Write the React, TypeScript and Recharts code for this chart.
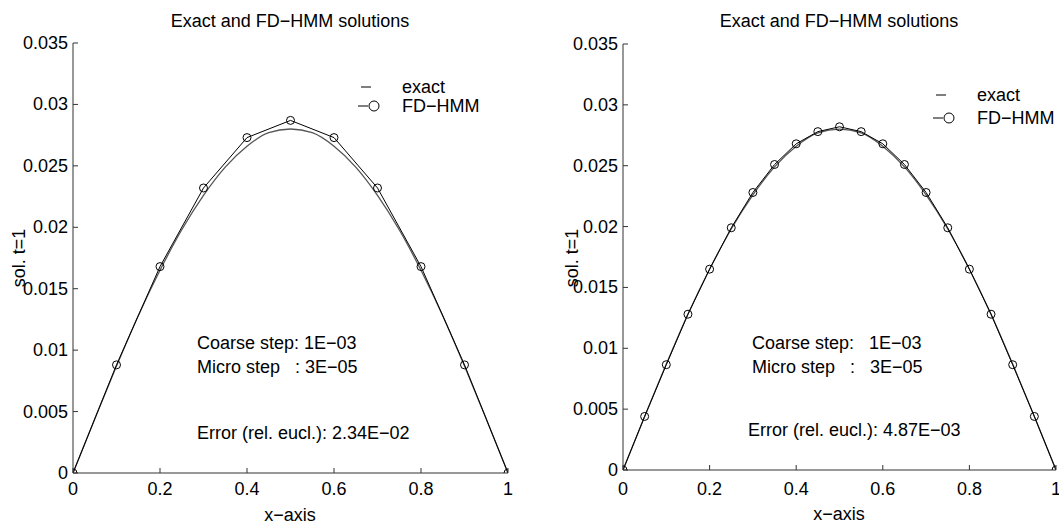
import React from "react";
import { LineChart, Line, XAxis, YAxis, Legend } from "recharts";

const xTicks = [0, 0.2, 0.4, 0.6, 0.8, 1];
const yTicks = [0, 0.005, 0.01, 0.015, 0.02, 0.025, 0.03, 0.035];

// exact solution, read every 0.05
const exactX = [0, 0.05, 0.1, 0.15, 0.2, 0.25, 0.3, 0.35, 0.4, 0.45, 0.5, 0.55, 0.6, 0.65, 0.7, 0.75, 0.8, 0.85, 0.9, 0.95, 1];
const exactY = [0, 0.0044, 0.0087, 0.0128, 0.0165, 0.0198, 0.0226, 0.0249, 0.0266, 0.0277, 0.028, 0.0277, 0.0266, 0.0249, 0.0226, 0.0198, 0.0165, 0.0128, 0.0087, 0.0044, 0];

// FD-HMM, coarse grid (left panel)
const coarseX = [0, 0.1, 0.2, 0.3, 0.4, 0.5, 0.6, 0.7, 0.8, 0.9, 1];
const coarseFd = [0, 0.0088, 0.0168, 0.0232, 0.0273, 0.0287, 0.0273, 0.0232, 0.0168, 0.0088, 0];

// FD-HMM, finer grid (right panel)
const fineX = exactX;
const fineFd = [0, 0.0044, 0.00865, 0.0128, 0.0165, 0.0199, 0.0228, 0.0251, 0.0268, 0.0278, 0.0282, 0.0278, 0.0268, 0.0251, 0.0228, 0.0199, 0.0165, 0.0128, 0.00865, 0.0044, 0];

const FONT = "'Liberation Sans', Arial, Helvetica, sans-serif";
const FS = 18;
const AXIS = "#333";

const fmt = (v: number) => parseFloat(v.toFixed(3)).toString();

const BottomTick = (props: any) => {
  const { x, y, payload, dy } = props;
  return (
    <g>
      <line x1={x} y1={y} x2={x} y2={y - 5} stroke={AXIS} />
      <text x={x} y={y + dy} textAnchor="middle" dominantBaseline="central" fontSize={FS} fontFamily={FONT} fill="#000">
        {fmt(payload.value)}
      </text>
    </g>
  );
};

const LeftTick = (props: any) => {
  const { x, y, payload } = props;
  return (
    <g>
      <line x1={x} y1={y} x2={x + 5} y2={y} stroke={AXIS} />
      <text x={x - 5} y={y} textAnchor="end" dominantBaseline="central" fontSize={FS} fontFamily={FONT} fill="#000">
        {fmt(payload.value)}
      </text>
    </g>
  );
};

const TopTick = (props: any) => {
  const { x, y } = props;
  return <line x1={x} y1={y} x2={x} y2={y + 5} stroke={AXIS} />;
};

const RightTick = (props: any) => {
  const { x, y } = props;
  return <line x1={x} y1={y} x2={x - 5} y2={y} stroke={AXIS} />;
};

function Txt({ x, y, children, anchor = "left", rotate = false }: any) {
  const tx = anchor === "center" ? "-50%" : "0";
  return (
    <div
      style={{
        position: "absolute",
        left: x,
        top: y,
        transform: `translate(${tx}, -50%)${rotate ? " rotate(-90deg)" : ""}`,
        fontFamily: FONT,
        fontSize: FS,
        whiteSpace: "pre",
        lineHeight: 1,
        color: "#000",
      }}
    >
      {children}
    </div>
  );
}

function LegendBox({ y1, y2 }: { y1: number; y2: number }) {
  return (
    <div style={{ position: "relative", width: 160, height: 60, fontFamily: FONT, fontSize: FS }}>
      <svg width={30} height={60} style={{ position: "absolute", left: 0, top: 0 }}>
        <line x1={3} y1={y1} x2={13} y2={y1} stroke="#000" />
        <line x1={0} y1={y2} x2={10} y2={y2} stroke="#000" />
        <circle cx={16} cy={y2} r={5} fill="none" stroke="#000" />
      </svg>
      <div style={{ position: "absolute", left: 44, top: y1, transform: "translateY(-50%)", lineHeight: 1 }}>exact</div>
      <div style={{ position: "absolute", left: 44, top: y2, transform: "translateY(-50%)", lineHeight: 1 }}>FD−HMM</div>
    </div>
  );
}

function Panel(props: any) {
  const { left, width, top, right, yAxisW, xAxisH, fd, labelDy, legendPos, legendY } = props;
  const exactData = exactX.map((x, i) => ({ x, y: exactY[i] }));
  return (
    <div style={{ position: "absolute", left, top: 0 }}>
      <LineChart width={width} height={524} margin={{ top, right, bottom: 0, left: 0 }}>
        <XAxis
          xAxisId="b"
          dataKey="x"
          type="number"
          domain={[0, 1]}
          ticks={xTicks}
          interval={0}
          height={xAxisH}
          tickSize={0}
          tickMargin={0}
          tickLine={false}
          axisLine={{ stroke: AXIS }}
          tick={<BottomTick dy={labelDy} />}
          allowDataOverflow
        />
        <XAxis
          xAxisId="t"
          orientation="top"
          dataKey="x"
          type="number"
          domain={[0, 1]}
          ticks={xTicks}
          interval={0}
          height={0}
          tickSize={0}
          tickMargin={0}
          tickLine={false}
          axisLine={{ stroke: AXIS }}
          tick={<TopTick />}
          allowDataOverflow
        />
        <YAxis
          yAxisId="l"
          type="number"
          domain={[0, 0.035]}
          ticks={yTicks}
          interval={0}
          width={yAxisW}
          tickSize={0}
          tickMargin={0}
          tickLine={false}
          axisLine={{ stroke: AXIS }}
          tick={<LeftTick />}
          allowDataOverflow
        />
        <YAxis
          yAxisId="r"
          orientation="right"
          type="number"
          domain={[0, 0.035]}
          ticks={yTicks}
          interval={0}
          width={0}
          tickSize={0}
          tickMargin={0}
          tickLine={false}
          axisLine={{ stroke: AXIS }}
          tick={<RightTick />}
          allowDataOverflow
        />
        <Legend
          layout="horizontal"
          verticalAlign="middle"
          align="center"
          wrapperStyle={{ position: "absolute", left: legendPos[0], top: legendPos[1], width: 160, height: 60 }}
          content={() => <LegendBox y1={legendY[0]} y2={legendY[1]} />}
        />
        <Line
          xAxisId="b"
          yAxisId="l"
          data={exactData}
          dataKey="y"
          name="exact"
          type="monotone"
          stroke="#555"
          strokeWidth={1.3}
          dot={false}
          isAnimationActive={false}
        />
        <Line
          xAxisId="b"
          yAxisId="l"
          data={fd}
          dataKey="y"
          name="FD-HMM"
          type="linear"
          stroke="#000"
          strokeWidth={1}
          dot={{ r: 4, stroke: "#000", fill: "none", strokeWidth: 1 }}
          isAnimationActive={false}
        />
      </LineChart>
    </div>
  );
}

export default function App() {
  const leftFd = coarseX.map((x, i) => ({ x, y: coarseFd[i] }));
  const rightFd = fineX.map((x, i) => ({ x, y: fineFd[i] }));
  return (
    <div style={{ position: "absolute", left: 0, top: 0, width: 1059, height: 524, background: "#fff", overflow: "hidden" }}>
      <Panel
        left={0}
        width={530}
        top={43}
        right={22}
        yAxisW={73}
        xAxisH={51}
        fd={leftFd}
        labelDy={16}
        legendPos={[358, 70]}
        legendY={[17, 36]}
      />
      <Panel
        left={530}
        width={529}
        top={44}
        right={3}
        yAxisW={93}
        xAxisH={54}
        fd={rightFd}
        labelDy={19}
        legendPos={[403, 78]}
        legendY={[17, 40]}
      />

      <Txt x={290} y={21} anchor="center">Exact and FD−HMM solutions</Txt>
      <Txt x={839} y={21} anchor="center">Exact and FD−HMM solutions</Txt>

      <Txt x={290} y={515} anchor="center">x−axis</Txt>
      <Txt x={839} y={514} anchor="center">x−axis</Txt>

      <Txt x={19} y={258} anchor="center" rotate>sol. t=1</Txt>
      <Txt x={572} y={258} anchor="center" rotate>sol. t=1</Txt>

      <Txt x={197} y={343}>Coarse step: 1E−03</Txt>
      <Txt x={197} y={367}>Micro step   : 3E−05</Txt>
      <Txt x={197} y={433}>Error (rel. eucl.): 2.34E−02</Txt>

      <Txt x={752} y={343}>Coarse step:   1E−03</Txt>
      <Txt x={752} y={367}>Micro step   :   3E−05</Txt>
      <Txt x={748} y={430}>Error (rel. eucl.): 4.87E−03</Txt>
    </div>
  );
}
